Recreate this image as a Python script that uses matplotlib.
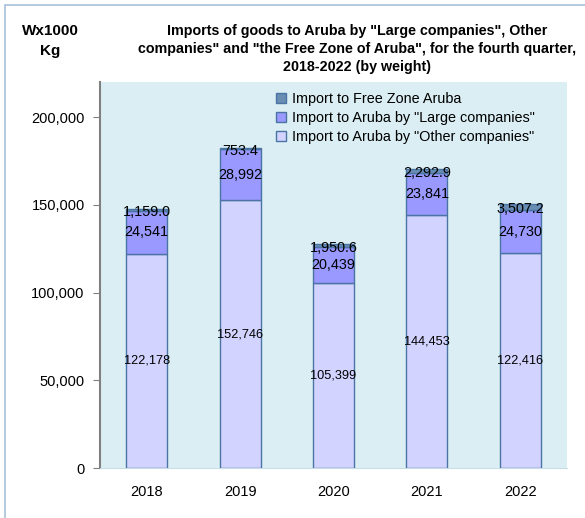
import matplotlib.pyplot as plt
import matplotlib.patches as mpatches
import numpy as np

plt.rcParams.update({'font.family': 'Liberation Sans', 'font.size': 10})

years = ["2018", "2019", "2020", "2021", "2022"]
other_companies = [122178, 152746, 105399, 144453, 122416]
large_companies = [24541, 28992, 20439, 23841, 24730]
free_zone = [1159.0, 753.4, 1950.6, 2292.9, 3507.2]

c_other = "#D3D3FF"
c_large = "#9999FF"
c_free = "#6A8DB3"
c_edge = "#4A74A3"
bg = "#DAEEF3"

fig = plt.figure(figsize=(5.85, 5.18), dpi=100)
ax = fig.add_axes([100/585, 50/518, 467/585, 386/518])
ax.set_facecolor(bg)

# light frame around the whole chart
fig.patches.append(mpatches.Rectangle((5/585, -0.05), 1.2, 1 - 5/518 + 0.05,
                                      transform=fig.transFigure, fill=False,
                                      edgecolor="#A9C1DA", linewidth=1.2))

x = np.arange(len(years))
w = 0.44
other = np.array(other_companies)
large = np.array(large_companies)
free = np.array(free_zone)

b1 = ax.bar(x, other, w, color=c_other, edgecolor=c_edge, linewidth=1,
            label='Import to Aruba by "Other companies"')
b2 = ax.bar(x, large, w, bottom=other, color=c_large, edgecolor=c_edge,
            linewidth=1, label='Import to Aruba by "Large companies"')
b3 = ax.bar(x, free, w, bottom=other + large, color=c_free, edgecolor=c_edge,
            linewidth=1, label="Import to Free Zone Aruba")

for i in range(len(years)):
    ax.text(x[i], other[i] / 2, f"{other[i]:,}", ha="center", va="center", fontsize=9.2)
    ax.text(x[i], other[i] + large[i] / 2, f"{large[i]:,}", ha="center",
            va="center", fontsize=10.4)
    ax.text(x[i], other[i] + large[i] + free[i] / 2 - 1500, f"{free[i]:,.1f}",
            ha="center", va="center", fontsize=10.4)

ax.set_xlim(-0.5, 4.5)
ax.set_ylim(0, 220000)
ax.set_yticks([0, 50000, 100000, 150000, 200000])
ax.yaxis.set_major_formatter(plt.FuncFormatter(lambda v, p: f"{int(v):,}"))
ax.set_xticks(x)
ax.set_xticklabels(years)
ax.tick_params(axis="y", direction="out", length=5, color="#808080",
               labelsize=10.5, pad=6)
ax.tick_params(axis="x", length=0, labelsize=10.5, pad=12)
for s in ["top", "right"]:
    ax.spines[s].set_visible(False)
ax.spines["left"].set_color("#808080")
ax.spines["left"].set_linewidth(1.5)
ax.spines["bottom"].set_color("#C9DDE8")

h = [b3, b2, b1]
ax.legend(h, [b.get_label() for b in h], loc="upper left",
          bbox_to_anchor=(0.355, 1.0), frameon=False, fontsize=10.4,
          handlelength=0.7, handleheight=0.7, handletextpad=0.4,
          labelspacing=0.35, borderpad=0.2)

fig.text(357/585, 1 - 49/518, 'Imports of goods to Aruba by "Large companies", Other\n'
         'companies" and "the Free Zone of Aruba", for the fourth quarter,\n'
         '2018-2022 (by weight)', ha="center", va="center", fontsize=10.3,
         fontweight="bold", linespacing=1.35)
fig.text(50/585, 1 - 41/518, "Wx1000\nKg", ha="center", va="center",
         fontsize=11, fontweight="bold", linespacing=1.5)

fig.savefig("out.png", dpi=100)
